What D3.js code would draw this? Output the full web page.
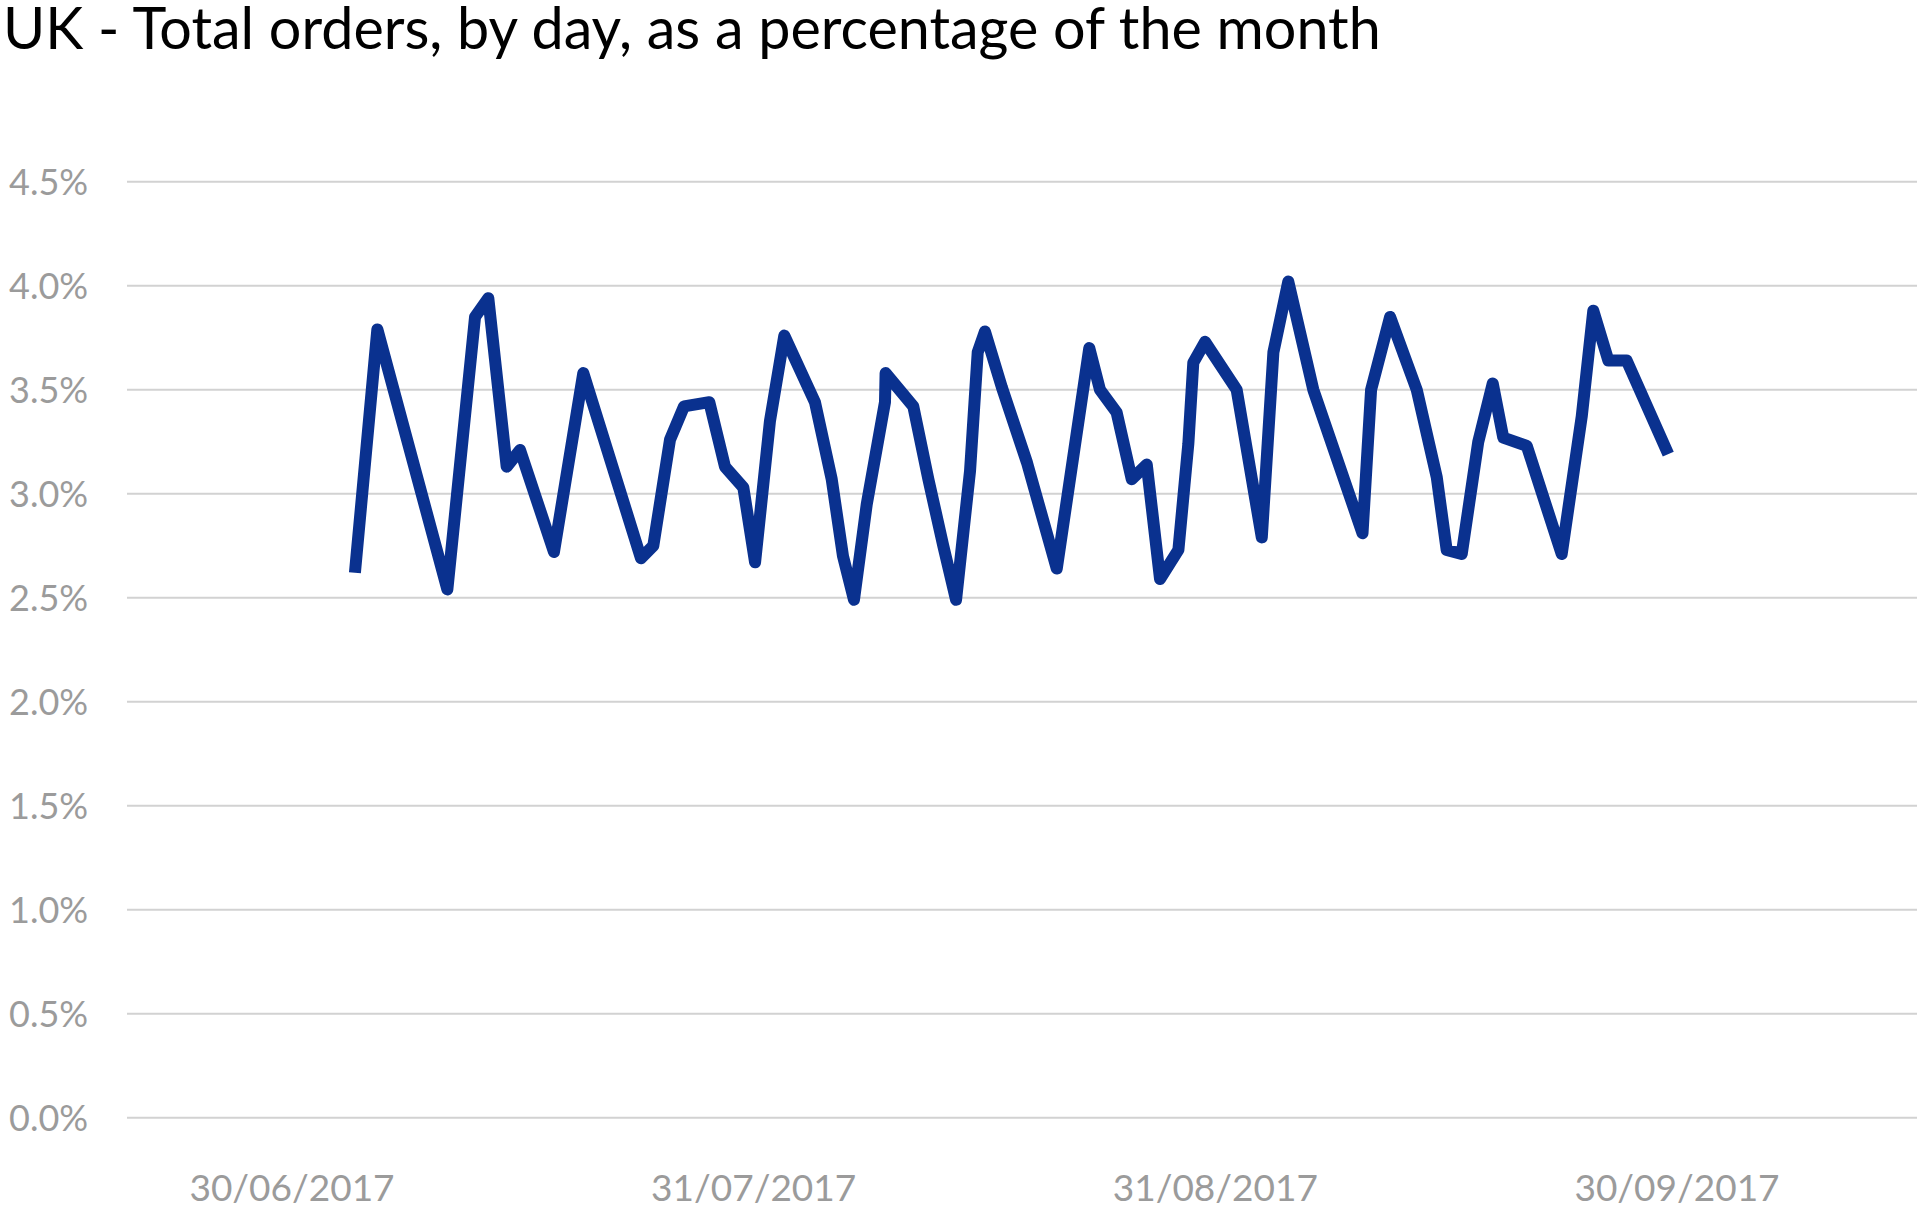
<!DOCTYPE html>
<html>
<head>
<meta charset="utf-8">
<script src="https://cdn.jsdelivr.net/npm/d3@7"></script>
<style>
  body { margin: 0; background: #fff; }
  svg { display: block; font-family: Lato, "Noto Sans", sans-serif; }
</style>
</head>
<body>
<div id="chart"></div>
<script>
// position along the date axis, in days after 30/06/2017
const dayPos = [
  4.18, 5.67, 10.32, 12.16, 13.04, 14.26, 15.15, 17.40, 19.35, 23.18,
  24.00, 25.11, 26.04, 27.72, 28.76, 29.98, 30.76, 31.75, 32.70, 34.74,
  35.85, 36.60, 37.33, 38.18, 39.39, 39.43, 41.27, 42.27, 43.26, 44.11,
  45.04, 45.55, 46.03, 47.16, 48.82, 50.80, 52.96, 53.67, 54.78, 55.78,
  56.78, 57.66, 58.88, 59.54, 59.87, 60.65, 62.75, 64.42, 65.19, 66.18,
  67.84, 71.11, 71.68, 72.94, 74.71, 76.04, 76.70, 77.70, 78.80, 79.76,
  80.46, 82.02, 84.34, 85.67, 86.44, 87.44, 88.66, 91.42
];
// share of the month's orders, %
const orderShare = [
  2.62, 3.79, 2.54, 3.85, 3.94, 3.13, 3.21, 2.72, 3.58, 2.69,
  2.75, 3.26, 3.42, 3.44, 3.13, 3.03, 2.67, 3.35, 3.76, 3.44,
  3.07, 2.70, 2.49, 2.95, 3.44, 3.58, 3.42, 3.07, 2.75, 2.49,
  3.11, 3.68, 3.78, 3.51, 3.15, 2.64, 3.70, 3.50, 3.39, 3.07,
  3.14, 2.59, 2.73, 3.24, 3.63, 3.73, 3.50, 2.79, 3.68, 4.02,
  3.50, 2.81, 3.50, 3.85, 3.50, 3.08, 2.73, 2.71, 3.25, 3.53,
  3.27, 3.23, 2.71, 3.37, 3.88, 3.64, 3.64, 3.19
];
const dateLabels = ["30/06/2017", "31/07/2017", "31/08/2017", "30/09/2017"];
const yTicks = [0, 0.5, 1, 1.5, 2, 2.5, 3, 3.5, 4, 4.5];

const data = dayPos.map((d, i) => ({ day: d, value: orderShare[i] }));

const width = 1917, height = 1210;
const svg = d3.select("#chart").append("svg")
  .attr("width", width)
  .attr("height", height);

// title
const title = svg.append("text")
  .attr("x", 3)
  .attr("y", 49)
  .attr("fill", "#000")
  .style("font-size", "52px")
  .text("UK - Total orders, by day, as a percentage of the month");
// fit the font size so the title spans like the original
const tw = title.node().getComputedTextLength();
title.style("font-size", (52 * 1378 / tw) + "px");

const x = d3.scaleLinear().domain([0, 92]).range([292, 1677]);
const xLabels = d3.scalePoint().domain(dateLabels).range([292, 1677]);
const y = d3.scaleLinear().domain([0, 4.5]).range([1117.7, 181.7]);

// gridlines
svg.append("g")
  .selectAll("line")
  .data(yTicks)
  .join("line")
  .attr("x1", 127)
  .attr("x2", width)
  .attr("y1", (d) => y(d))
  .attr("y2", (d) => y(d))
  .attr("stroke", "#d2d2d2")
  .attr("stroke-width", 2);

// y labels
svg.append("g")
  .selectAll("text")
  .data(yTicks)
  .join("text")
  .attr("x", 9)
  .attr("y", (d) => y(d) + 13)
  .attr("fill", "#9b9b9b")
  .style("font-size", "36px")
  .text((d) => d.toFixed(1) + "%");

// x labels
svg.append("g")
  .selectAll("text")
  .data(dateLabels)
  .join("text")
  .attr("x", (d) => xLabels(d))
  .attr("y", 1201)
  .attr("text-anchor", "middle")
  .attr("fill", "#9b9b9b")
  .style("font-size", "37px")
  .text((d) => d);

// the line
const line = d3.line()
  .x((d) => x(d.day))
  .y((d) => y(d.value));

svg.append("path")
  .datum(data)
  .attr("d", line)
  .attr("fill", "none")
  .attr("stroke", "#0a318f")
  .attr("stroke-width", 12)
  .attr("stroke-linejoin", "round")
  .attr("stroke-linecap", "butt");
</script>
</body>
</html>
